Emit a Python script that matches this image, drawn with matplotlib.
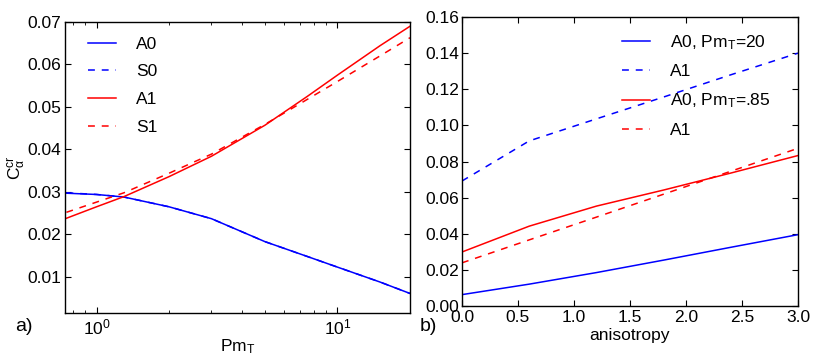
import numpy as np
import matplotlib
matplotlib.use("Agg")
import matplotlib.pyplot as plt
from matplotlib.ticker import FormatStrFormatter

# panel a) critical value vs Pm_T
pm = [0.75, 1.0, 1.3, 2.0, 3.0, 5.0, 7.5, 10.0, 15.0, 20.0]
a0 = [0.0297, 0.0294, 0.0288, 0.0265, 0.0237, 0.0183, 0.0148, 0.0123, 0.0088, 0.0061]
s0 = [0.0298, 0.0294, 0.0288, 0.0265, 0.0237, 0.0183, 0.0148, 0.0123, 0.0088, 0.0061]
a1 = [0.0238, 0.0265, 0.0289, 0.0336, 0.0384, 0.0457, 0.0525, 0.0575, 0.0644, 0.0690]
s1 = [0.0252, 0.0276, 0.0298, 0.0344, 0.0389, 0.0459, 0.0518, 0.0560, 0.0620, 0.0663]

# panel b) critical value vs anisotropy
aniso = [0.0, 0.6, 1.2, 1.8, 2.4, 3.0]
a0_pm20 = [0.0063, 0.0121, 0.0185, 0.0254, 0.0325, 0.0395]
a1_pm20 = [0.0692, 0.0914, 0.1036, 0.1157, 0.1280, 0.1400]
a0_pm85 = [0.0299, 0.0442, 0.0553, 0.0642, 0.0736, 0.0833]
a1_pm85 = [0.0239, 0.0366, 0.0492, 0.0619, 0.0746, 0.0873]

plt.rcParams['font.family'] = ['Liberation Sans', 'DejaVu Sans']
plt.rcParams['mathtext.fontset'] = 'custom'
plt.rcParams['mathtext.rm'] = 'Liberation Sans'
plt.rcParams['mathtext.it'] = 'Liberation Sans:italic'
plt.rcParams['font.size'] = 12.5
plt.rcParams['xtick.direction'] = 'in'
plt.rcParams['ytick.direction'] = 'in'
plt.rcParams['xtick.top'] = True
plt.rcParams['ytick.right'] = True
plt.rcParams['xtick.major.size'] = 4
plt.rcParams['ytick.major.size'] = 4
plt.rcParams['xtick.minor.size'] = 2
plt.rcParams['axes.linewidth'] = 1.0
plt.rcParams['lines.linewidth'] = 1.1
plt.rcParams['lines.dashed_pattern'] = [4.5, 4.5]

fig = plt.figure(figsize=(8.3, 3.55), dpi=100)
ax1 = fig.add_axes([65 / 830, 42 / 355, 345 / 830, 291 / 355])
ax2 = fig.add_axes([462 / 830, 49 / 355, 336 / 830, 289 / 355])

ax1.plot(pm, a0, 'b-', label='A0')
ax1.plot(pm, s0, 'b--', label='S0')
ax1.plot(pm, a1, 'r-', label='A1')
ax1.plot(pm, s1, 'r--', label='S1')
ax1.set_xscale('log')
ax1.set_xlim(0.74, 20)
ax1.set_ylim(0.0015, 0.07)
ax1.set_yticks([0.01, 0.02, 0.03, 0.04, 0.05, 0.06, 0.07])
ax1.yaxis.set_major_formatter(FormatStrFormatter('%.2f'))
ax1.tick_params(axis='y', pad=3)
ax1.tick_params(axis='x', pad=3)
ax1.set_xlabel(r'$\mathrm{Pm_T}$', labelpad=0)
ax1.set_ylabel(r'$\mathrm{C_\alpha^{cr}}$', labelpad=0)
ax1.legend(loc='upper left', bbox_to_anchor=(0.067, 0.95), frameon=False,
           handlelength=1.6, handletextpad=1.15, labelspacing=0.72,
           borderaxespad=0, borderpad=0)

ax2.plot(aniso, a0_pm20, 'b-', label=r'A0, $\mathrm{Pm_T}$=20')
ax2.plot(aniso, a1_pm20, 'b--', label='A1')
ax2.plot(aniso, a0_pm85, 'r-', label=r'A0, $\mathrm{Pm_T}$=.85')
ax2.plot(aniso, a1_pm85, 'r--', label='A1')
ax2.set_xlim(0, 3)
ax2.set_ylim(0, 0.16)
ax2.set_xticks([0.0, 0.5, 1.0, 1.5, 2.0, 2.5, 3.0])
ax2.set_yticks(np.arange(0, 0.161, 0.02))
ax2.xaxis.set_major_formatter(FormatStrFormatter('%.1f'))
ax2.yaxis.set_major_formatter(FormatStrFormatter('%.2f'))
ax2.tick_params(axis='y', pad=2)
ax2.tick_params(axis='x', pad=3)
ax2.set_xlabel('anisotropy', labelpad=2)
ax2.legend(loc='upper left', bbox_to_anchor=(0.476, 0.945), frameon=False,
           handlelength=1.6, handletextpad=1.15, labelspacing=0.72,
           borderaxespad=0, borderpad=0)

fig.text(15 / 830, 1 - 331 / 355, 'a)', fontsize=14)
fig.text(420 / 830, 1 - 331 / 355, 'b)', fontsize=14)

fig.savefig('out.png', dpi=100, facecolor='white')
